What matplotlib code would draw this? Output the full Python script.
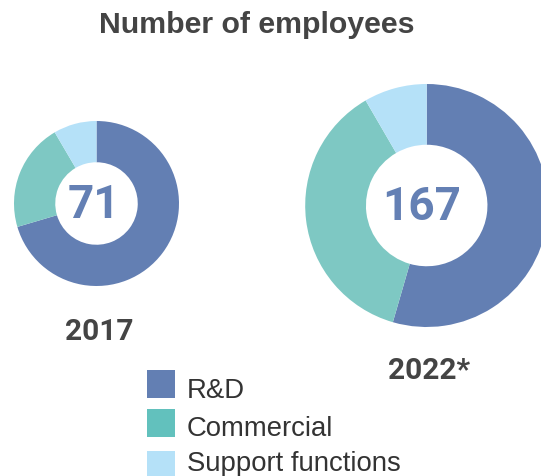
import matplotlib
matplotlib.use("Agg")
import matplotlib.pyplot as plt
from matplotlib.patches import Rectangle

title = "Number of employees"
categories = ["R&D", "Commercial", "Support functions"]
years = ["2017", "2022*"]
totals = [71, 167]
values_2017 = [50, 15, 6]
values_2022 = [91, 62, 14]

colors = ["#637fb3", "#7ec8c3", "#b5e1f8"]
legend_colors = ["#637fb3", "#62c1bd", "#b5e1f8"]
num_color = "#6480b4"
text_dark = "#444444"

W, H = 541, 477
fig = plt.figure(figsize=(W / 100, H / 100), dpi=100)
ax = fig.add_axes([0, 0, 1, 1])

def py(y):
    return H - y

donuts = [
    (values_2017, (96.5, py(204.5)), 82.5, totals[0], years[0], (99, py(332)), -3),
    (values_2022, (426.7, py(206.5)), 121.5, totals[1], years[1], (429, py(371)), -5),
]
for vals, c, r, tot, yr, ypos, dx in donuts:
    ax.pie(vals, colors=colors, startangle=90, counterclock=False,
           center=c, radius=r, wedgeprops=dict(width=r * 0.5, linewidth=0),
           normalize=True)
    ax.text(c[0] + dx, c[1] - 1, str(tot), ha="center", va="center",
            fontsize=33, fontweight="bold", color=num_color, family="Roboto")
    ax.text(ypos[0], ypos[1], yr, ha="center", va="center",
            fontsize=21.5, fontweight="bold", color=text_dark, family="Roboto")

ax.text(256.5, py(25), title, ha="center", va="center", fontsize=21.8,
        fontweight="bold", color=text_dark, family="Liberation Sans")

# legend
sq = 28
row_tops = [371, 410, 452]
baselines = [398, 436, 471.5]
for cat, col, top, bl in zip(categories, legend_colors, row_tops, baselines):
    ax.add_patch(Rectangle((147, py(top + sq)), sq, sq, facecolor=col,
                           edgecolor="none"))
    ax.text(187, py(bl), cat, ha="left", va="baseline", fontsize=19.8,
            color="#333333", family="Liberation Sans")

ax.set_xlim(0, W)
ax.set_ylim(0, H)
ax.set_aspect("equal")
ax.axis("off")
fig.savefig("out.png", dpi=100)
